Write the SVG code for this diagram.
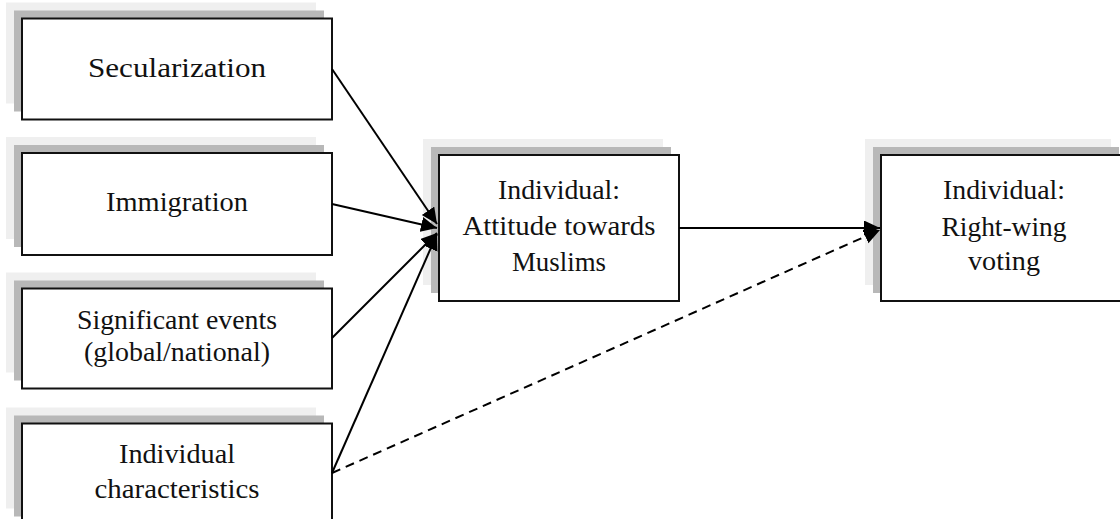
<svg xmlns="http://www.w3.org/2000/svg" width="1120" height="519" viewBox="0 0 1120 519">
<style>
.sh1{fill:#efefef;}
.sh2{fill:#b8b8b8;}
.box{fill:#ffffff;stroke:#111111;stroke-width:2;}
.t{font-family:"Liberation Serif","Times New Roman",serif;font-size:28px;fill:#111111;text-anchor:middle;}
.ln{stroke:#000000;stroke-width:2;fill:none;}
.dash{stroke-dasharray:9 6;}
</style>
<defs>
<marker id="ah" markerUnits="userSpaceOnUse" markerWidth="18" markerHeight="16" refX="16" refY="7.5" orient="auto">
<path d="M0,0 L16,7.5 L0,15 z" fill="#000000"/>
</marker>
</defs>
<rect width="1120" height="519" fill="#ffffff"/>
<g id="node-secularization">
<rect class="sh1" x="6" y="2.5" width="310" height="101"/>
<rect class="sh2" x="14" y="10.5" width="310" height="101"/>
<rect class="box" x="22" y="18.5" width="310" height="101"/>
<text class="t" x="177" y="77" textLength="178" lengthAdjust="spacingAndGlyphs">Secularization</text>
</g>
<g id="node-immigration">
<rect class="sh1" x="6" y="137" width="310" height="102"/>
<rect class="sh2" x="14" y="145" width="310" height="102"/>
<rect class="box" x="22" y="153" width="310" height="102"/>
<text class="t" x="177" y="211" textLength="142" lengthAdjust="spacingAndGlyphs">Immigration</text>
</g>
<g id="node-events">
<rect class="sh1" x="6" y="272.5" width="310" height="100"/>
<rect class="sh2" x="14" y="280.5" width="310" height="100"/>
<rect class="box" x="22" y="288.5" width="310" height="100"/>
<text class="t" x="177" y="329" textLength="200" lengthAdjust="spacingAndGlyphs">Significant events</text>
<text class="t" x="177" y="361" textLength="186" lengthAdjust="spacingAndGlyphs">(global/national)</text>
</g>
<g id="node-individual-characteristics">
<rect class="sh1" x="6" y="407.5" width="310" height="101"/>
<rect class="sh2" x="14" y="415.5" width="310" height="101"/>
<rect class="box" x="22" y="423.5" width="310" height="101"/>
<text class="t" x="177" y="463" textLength="116" lengthAdjust="spacingAndGlyphs">Individual</text>
<text class="t" x="177" y="498" textLength="165" lengthAdjust="spacingAndGlyphs">characteristics</text>
</g>
<g id="node-attitude">
<rect class="sh1" x="423" y="139" width="240" height="146"/>
<rect class="sh2" x="431" y="147" width="240" height="146"/>
<rect class="box" x="439" y="155" width="240" height="146"/>
<text class="t" x="559" y="199" textLength="122" lengthAdjust="spacingAndGlyphs">Individual:</text>
<text class="t" x="559" y="235" textLength="193" lengthAdjust="spacingAndGlyphs">Attitude towards</text>
<text class="t" x="559" y="271" textLength="94" lengthAdjust="spacingAndGlyphs">Muslims</text>
</g>
<g id="node-voting">
<rect class="sh1" x="865" y="139" width="246" height="146"/>
<rect class="sh2" x="873" y="147" width="246" height="146"/>
<rect class="box" x="881" y="155" width="246" height="146"/>
<text class="t" x="1004" y="199" textLength="122" lengthAdjust="spacingAndGlyphs">Individual:</text>
<text class="t" x="1004" y="236" textLength="125" lengthAdjust="spacingAndGlyphs">Right-wing</text>
<text class="t" x="1004" y="270" textLength="72" lengthAdjust="spacingAndGlyphs">voting</text>
</g>
<g id="connectors">
<line class="ln" x1="332" y1="69" x2="437" y2="224" marker-end="url(#ah)"/>
<line class="ln" x1="332" y1="204" x2="437" y2="228" marker-end="url(#ah)"/>
<line class="ln" x1="332" y1="338" x2="437" y2="233" marker-end="url(#ah)"/>
<line class="ln" x1="332" y1="473" x2="437" y2="234" marker-end="url(#ah)"/>
<line class="ln" x1="679" y1="228" x2="880" y2="228" marker-end="url(#ah)"/>
<line class="ln dash" x1="332" y1="473" x2="880" y2="230" marker-end="url(#ah)"/>
</g>
</svg>
